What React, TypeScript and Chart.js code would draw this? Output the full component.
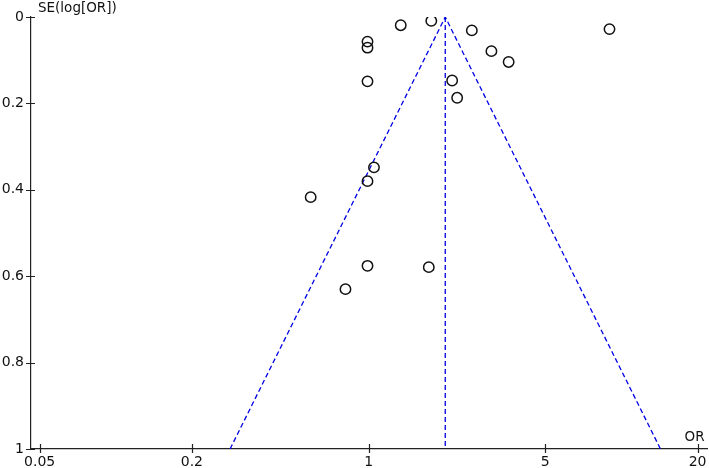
import React, { useEffect, useRef } from "react";
import { Chart, registerables } from "chart.js";

Chart.register(...registerables);

// Study data: odds ratio and standard error of log(OR)
const studyOR = [1.34, 1.77, 2.56, 0.99, 0.99, 3.06, 3.58, 8.97, 0.99, 2.14, 2.24, 1.05, 0.99, 0.59, 0.99, 1.73, 0.81];
const studySE = [0.019, 0.009, 0.031, 0.057, 0.071, 0.079, 0.104, 0.028, 0.149, 0.147, 0.187, 0.348, 0.38, 0.417, 0.576, 0.579, 0.63];

// Pooled estimate and funnel (95% pseudo-confidence limits)
const pooledOR = 2.01;
const funnelSE = [1, 0, 1];
const funnelZ = [-1.96, 0, 1.96];
const verticalSE = [0, 1];

const xTicks = [0.05, 0.2, 1, 5, 20];
const yTicks = [0, 0.2, 0.4, 0.6, 0.8, 1];

const yTitle = "SE(log[OR])";
const xTitle = "OR";

const FONT = "DejaVu Sans";
const AXIS = "#222222";
const TEXT = "#111111";
const BLUE = "#0000e6";
const RIGHT_GAP = 2;

const zeroPad = (s: any) => {
  s.paddingLeft = 0;
  s.paddingRight = 0;
  s.paddingTop = 0;
  s.paddingBottom = 0;
};

export default function App() {
  const ref = useRef<HTMLCanvasElement | null>(null);

  useEffect(() => {
    if (!ref.current) return;
    const scatter = studyOR.map((v, i) => ({ x: v, y: studySE[i] }));
    const funnel = funnelSE.map((se, i) => ({ x: pooledOR * Math.exp(funnelZ[i] * se), y: se }));
    const vertical = verticalSE.map((se) => ({ x: pooledOR, y: se }));

    const decor = {
      id: "decor",
      afterLayout(chart: any) {
        // stretch the plot area to the right edge
        const xs = chart.scales.x;
        const right = chart.width - RIGHT_GAP;
        xs.right = right;
        xs.width = right - xs.left;
        chart.chartArea.right = right;
        chart.chartArea.width = right - chart.chartArea.left;
        xs.configure();
      },
      afterDraw(chart: any) {
        const ctx = chart.ctx as CanvasRenderingContext2D;
        const xs = chart.scales.x;
        const ys = chart.scales.y;
        ctx.save();
        ctx.strokeStyle = AXIS;
        ctx.lineWidth = 1.2;
        ctx.beginPath();
        for (const v of xTicks) {
          const px = Math.round(xs.getPixelForValue(v)) + 0.5;
          ctx.moveTo(px, ys.bottom - 5);
          ctx.lineTo(px, ys.bottom + 4);
        }
        for (const v of yTicks) {
          const py = Math.round(ys.getPixelForValue(v)) + 0.5;
          ctx.moveTo(xs.left - 5, py);
          ctx.lineTo(xs.left + 4, py);
        }
        ctx.stroke();
        ctx.fillStyle = TEXT;
        // x tick labels
        ctx.font = `14px "${FONT}"`;
        ctx.textAlign = "center";
        ctx.textBaseline = "alphabetic";
        for (const v of xTicks) {
          ctx.fillText(String(v), xs.getPixelForValue(v), ys.bottom + 17);
        }
        // axis titles
        ctx.font = `13.5px "${FONT}"`;
        ctx.textBaseline = "middle";
        ctx.textAlign = "left";
        ctx.fillText(yTitle, xs.left + 7, ys.top - 8.5);
        ctx.textAlign = "center";
        ctx.fillText(xTitle, xs.getPixelForValue(20) - 3, ys.bottom - 12);
        ctx.restore();
      },
    };

    const chart = new Chart(ref.current, {
      type: "scatter",
      data: {
        datasets: [
          {
            type: "scatter",
            data: scatter,
            pointStyle: "circle",
            pointRadius: 5.2,
            pointHoverRadius: 5.2,
            borderWidth: 1.5,
            borderColor: "#111111",
            backgroundColor: "rgba(0,0,0,0)",
          } as any,
          {
            type: "line",
            data: funnel,
            borderColor: BLUE,
            borderWidth: 1.3,
            borderDash: [5, 3],
            pointRadius: 0,
            fill: false,
            tension: 0,
          } as any,
          {
            type: "line",
            data: vertical,
            borderColor: BLUE,
            borderWidth: 1.3,
            borderDash: [5, 3],
            pointRadius: 0,
            fill: false,
            tension: 0,
          } as any,
        ],
      },
      options: {
        animation: false,
        responsive: false,
        devicePixelRatio: 1,
        layout: { padding: { top: 17, right: RIGHT_GAP, left: 0, bottom: 0 } },
        plugins: { legend: { display: false }, tooltip: { enabled: false } },
        events: [],
        scales: {
          x: {
            type: "logarithmic",
            min: 0.0462,
            max: 21.8,
            afterBuildTicks: (s: any) => {
              s.ticks = xTicks.map((v) => ({ value: v }));
            },
            afterFit: (s: any) => {
              s.height = 19;
              zeroPad(s);
            },
            grid: { display: false, drawTicks: false },
            border: { display: true, color: AXIS, width: 1.2 },
            ticks: { display: false },
          },
          y: {
            type: "linear",
            reverse: true,
            min: 0,
            max: 1,
            afterBuildTicks: (s: any) => {
              s.ticks = yTicks.map((v) => ({ value: v }));
            },
            afterFit: (s: any) => {
              s.width = 31;
              zeroPad(s);
            },
            grid: { display: false, drawTicks: false },
            border: { display: true, color: AXIS, width: 1.2 },
            ticks: {
              autoSkip: false,
              padding: 7,
              color: TEXT,
              font: { family: FONT, size: 14 },
              callback: (v: any) => String(v),
            },
          },
        },
      },
      plugins: [decor],
    } as any);

    return () => chart.destroy();
  }, []);

  return (
    <div style={{ position: "absolute", left: 0, top: 0, width: 709, height: 468, background: "#fff" }}>
      <canvas ref={ref} width={709} height={468} style={{ width: 709, height: 468, display: "block" }} />
    </div>
  );
}
